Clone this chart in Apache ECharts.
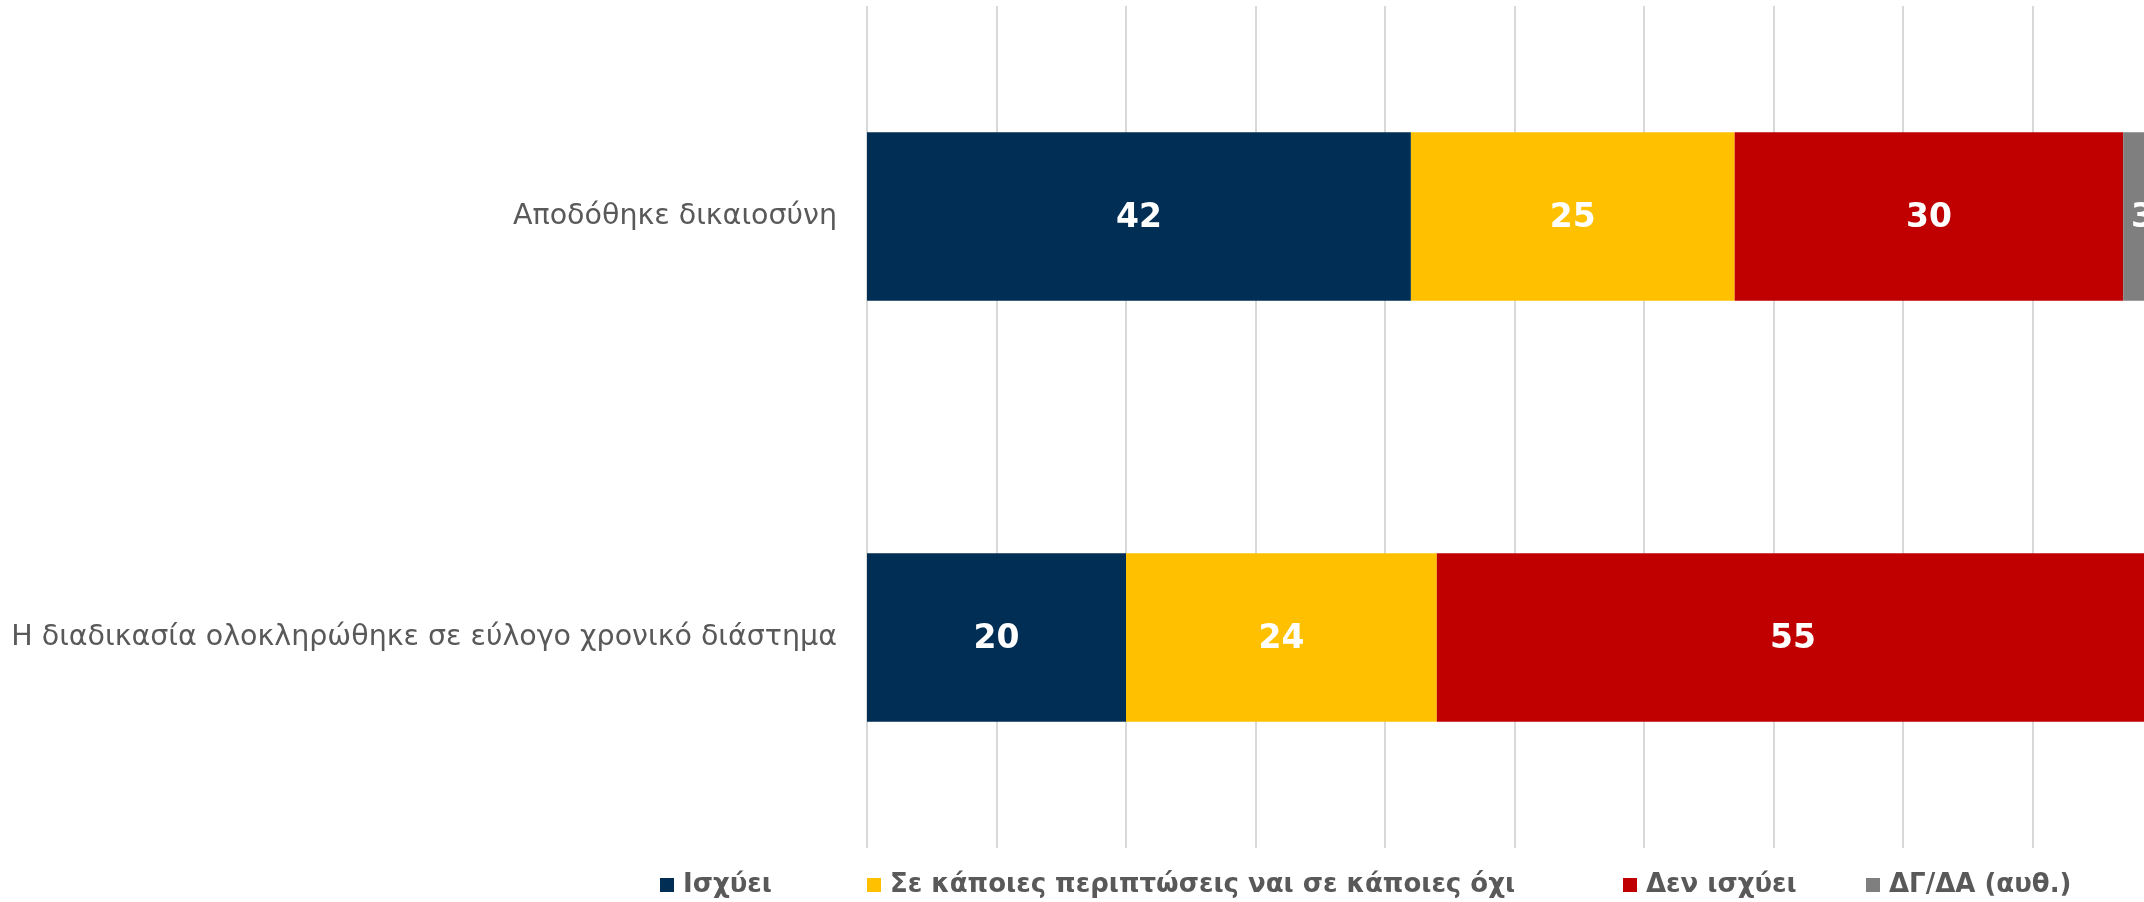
<!DOCTYPE html>
<html>
<head>
<meta charset="utf-8">
<script src="https://cdn.jsdelivr.net/npm/echarts@6/dist/echarts.min.js"></script>
<style>
	html, body { margin: 0; padding: 0; background: #fff; overflow: hidden; }
	/* the original chart is cut on the right edge, so the canvas is a bit wider than the window */
	#chart { width: 2170px; height: 902px; }
</style>
</head>
<body>
<div id="chart"></div>
<script>
	// κατηγορίες (από πάνω προς τα κάτω)
	const categories = ['Αποδόθηκε δικαιοσύνη', 'Η διαδικασία ολοκληρώθηκε σε εύλογο χρονικό διάστημα']
	const seriesNames = ['Ισχύει', 'Σε κάποιες περιπτώσεις ναι σε κάποιες όχι', 'Δεν ισχύει', 'ΔΓ/ΔΑ (αυθ.)']
	const isxyei = [42, 20]
	const kapoies = [25, 24]
	const denIsxyei = [30, 55]
	const dgda = [3, 1]
	const colors = ['#002E55', '#FFC000', '#C00000', '#7F7F7F']

	const values = [isxyei, kapoies, denIsxyei, dgda]
	// θέση κάθε στοιχείου του υπομνήματος
	const legendLeft = [660, 867, 1623, 1866]

	var myChart = echarts.init(document.getElementById('chart'))

	const series = []
	const legends = []
	for (let i = 0; i < seriesNames.length; i++) {
		series.push({
			name: seriesNames[i],
			type: 'bar',
			stack: 'total',
			barWidth: '40%',
			data: values[i],
			itemStyle: { color: colors[i] },
			label: {
				show: true,
				position: 'inside',
				offset: [0, 2],
				color: '#fff',
				fontFamily: 'DejaVu Sans',
				fontWeight: 'bold',
				fontSize: 33
			}
		})
		legends.push({
			left: legendLeft[i],
			top: 872,
			padding: 0,
			itemWidth: 14,
			itemHeight: 14,
			icon: 'rect',
			data: [seriesNames[i]],
			textStyle: {
				color: '#595959',
				fontFamily: 'DejaVu Sans',
				fontWeight: 'bold',
				fontSize: 26,
				padding: [0, 0, 0, 4]
			}
		})
	}

	var option = {
		animation: false,
		grid: {
			left: 867,
			right: 8,
			top: 6,
			bottom: 54
		},
		legend: legends,
		xAxis: {
			type: 'value',
			min: 0,
			max: 100,
			interval: 10,
			axisLabel: { show: false },
			axisLine: { show: false },
			axisTick: { show: false },
			splitLine: { lineStyle: { color: '#D9D9D9', width: 2 } }
		},
		yAxis: {
			type: 'category',
			inverse: true,
			data: categories,
			axisLine: { show: false },
			axisTick: { show: false },
			axisLabel: {
				margin: 30,
				padding: [10, 0, 0, 0],
				color: '#595959',
				fontFamily: 'DejaVu Sans',
				fontSize: 28.5
			}
		},
		series: series
	}

	myChart.setOption(option)
</script>
</body>
</html>
